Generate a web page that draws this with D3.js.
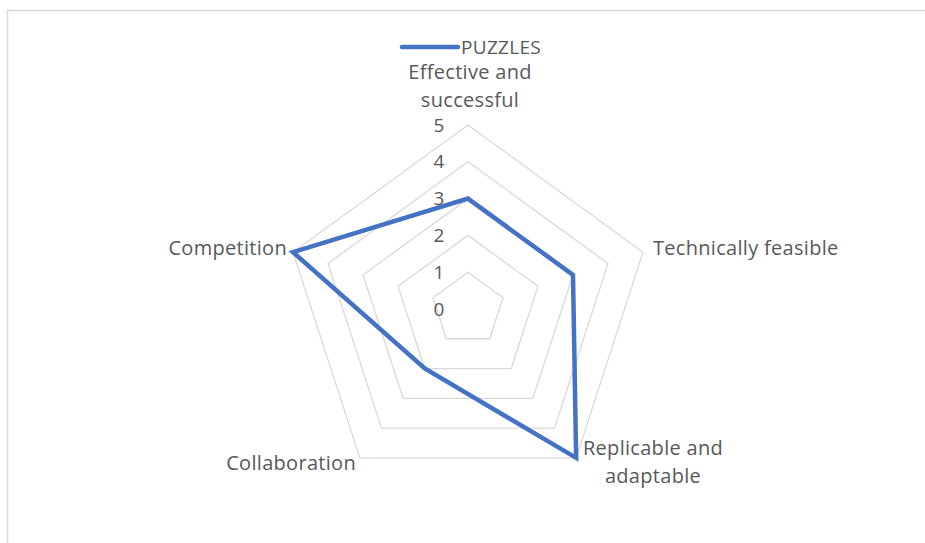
<!DOCTYPE html>
<html>
<head>
<meta charset="utf-8">
<script src="https://cdn.jsdelivr.net/npm/d3@7"></script>
<style>
  body { margin: 0; background: #fff; }
  text { font-family: "Open Sans", "Noto Sans", sans-serif; fill: #595959; letter-spacing: 0.3px; }
</style>
</head>
<body>
<div id="chart"></div>
<script>
// Data
var categories = ["Effective and successful", "Technically feasible", "Replicable and adaptable", "Collaboration", "Competition"];
var puzzles = [3, 3, 5, 2, 5];
var tickValues = [0, 1, 2, 3, 4, 5];
var seriesName = "PUZZLES";

var svgWidth = 925;
var svgHeight = 543;
var center = { x: 468, y: 309 };
var outerRadius = 184;

var svg = d3.select("#chart")
  .append("svg")
  .attr("width", svgWidth)
  .attr("height", svgHeight);

// chart area border
svg.append("rect")
  .attr("x", 7.5)
  .attr("y", 10.5)
  .attr("width", svgWidth + 20)
  .attr("height", svgHeight + 20)
  .attr("fill", "none")
  .attr("stroke", "#d9d9d9")
  .attr("stroke-width", 1.5);

var rScale = d3.scaleLinear()
  .domain([0, 5])
  .range([0, outerRadius]);

var angleScale = d3.scaleLinear()
  .domain([0, categories.length])
  .range([0, 2 * Math.PI]);

var radarGroup = svg.append("g")
  .attr("transform", `translate(${center.x}, ${center.y})`);

// grid pentagons
var gridLine = d3.lineRadial()
  .angle((d, i) => angleScale(i))
  .radius(d => rScale(d))
  .curve(d3.curveLinearClosed);

radarGroup.selectAll(".grid")
  .data(tickValues.filter(t => t > 0))
  .enter()
  .append("path")
  .attr("class", "grid")
  .attr("d", t => gridLine(categories.map(() => t)))
  .attr("fill", "none")
  .attr("stroke", "#d9d9d9")
  .attr("stroke-width", 1.3);

// tick labels
radarGroup.selectAll(".tick")
  .data(tickValues)
  .enter()
  .append("text")
  .attr("class", "tick")
  .attr("x", -29)
  .attr("y", t => -rScale(t))
  .attr("dy", "0.35em")
  .attr("text-anchor", "middle")
  .style("font-size", "19px")
  .text(t => t);

// series line
var seriesLine = d3.lineRadial()
  .angle((d, i) => angleScale(i))
  .radius(d => rScale(d))
  .curve(d3.curveLinearClosed);

radarGroup.append("path")
  .datum(puzzles)
  .attr("d", seriesLine)
  .attr("fill", "none")
  .attr("stroke", "#4472c4")
  .attr("stroke-width", 4.5)
  .attr("stroke-linejoin", "miter");

// category labels
var labelSpecs = [
  { lines: ["Effective and", "successful"], x: 2, y: -237, anchor: "middle" },
  { lines: ["Technically feasible"], x: 185, y: -61, anchor: "start" },
  { lines: ["Replicable and", "adaptable"], x: 185, y: 139, anchor: "middle" },
  { lines: ["Collaboration"], x: -112, y: 154, anchor: "end" },
  { lines: ["Competition"], x: -181, y: -61, anchor: "end" }
];

labelSpecs.forEach(function(spec) {
  var t = radarGroup.append("text")
    .attr("text-anchor", spec.anchor)
    .style("font-size", "20px");
  spec.lines.forEach(function(line, i) {
    t.append("tspan")
      .attr("x", spec.x)
      .attr("y", spec.y + i * 28)
      .attr("dy", "0.35em")
      .text(line);
  });
});

// legend
var legend = svg.append("g")
  .attr("transform", "translate(402, 47)");

legend.append("line")
  .attr("x1", 0)
  .attr("x2", 56)
  .attr("stroke", "#4472c4")
  .attr("stroke-width", 4.5)
  .attr("stroke-linecap", "round");

legend.append("text")
  .attr("x", 59)
  .attr("dy", "0.35em")
  .style("font-size", "19px")
  .text(seriesName);
</script>
</body>
</html>
